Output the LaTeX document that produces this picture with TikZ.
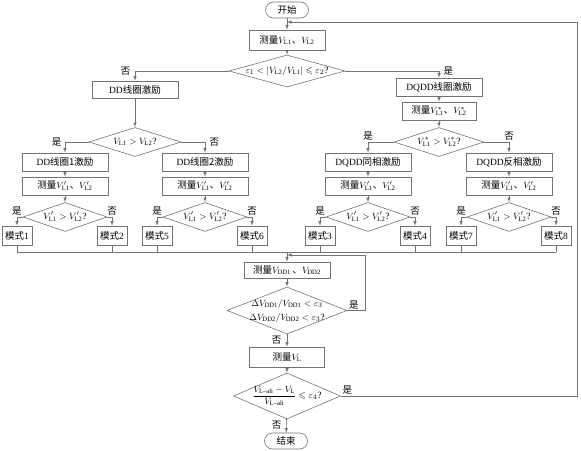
\documentclass[tikz,border=0pt]{standalone}
\usepackage{amsmath,amssymb}
\usepackage{fontspec}
\setmainfont{Liberation Serif}
\newfontfamily\cjk{Noto Sans CJK SC}
\newcommand{\zh}[1]{{\cjk #1}}
\newcommand{\dtxt}[1]{\makebox[0pt]{#1}} % zero width, the diamond keeps its own size
\usetikzlibrary{shapes.geometric}

\begin{document}
\begin{tikzpicture}[x=1pt, y=-1pt,
        every node/.style={font=\fontsize{9.5}{11}\selectfont, inner sep=0pt},
        proc/.style={draw=black!55, line width=0.6pt, rectangle, minimum width=86pt, minimum height=18pt, text centered},
        term/.style={draw=black!55, line width=0.6pt, rectangle, rounded corners=8pt, minimum width=43pt, minimum height=16pt},
        dec/.style={draw=black!55, line width=0.6pt, diamond, minimum width=84pt, minimum height=29pt},
        mode/.style={proc, minimum width=30pt, minimum height=19pt},
        lbl/.style={inner sep=1.5pt},
        arr/.style={draw=black!55, line width=0.6pt, -latex},
        line/.style={draw=black!55, line width=0.6pt}
    ]
    \useasboundingbox (0,0) rectangle (581,450);

    \node[term] (start) at (287,10) {\zh{开始}};
    \node[proc, minimum width=76pt, minimum height=20pt] (meas) at (287,40) {\zh{测量}$V_{\mathrm{L1}}$\zh{、}$V_{\mathrm{L2}}$};
    \node[dec, minimum width=116pt, minimum height=32pt] (ratio) at (287,71)
        {\dtxt{$\varepsilon_1<\left|V_{\mathrm{L2}}/V_{\mathrm{L1}}\right|\leqslant\varepsilon_2$?}};

    \node[proc, minimum height=17pt] (ddex) at (135,89.5) {DD\zh{线圈激励}};
    \node[dec, minimum width=92pt] (cmpA) at (135,142) {\dtxt{$V_{\mathrm{L1}}>V_{\mathrm{L2}}$?}};
    \node[proc] (dqex) at (439,87) {DQDD\zh{线圈激励}};
    \node[proc, minimum width=74pt] (dqmeas) at (439,111) {\zh{测量}$V^*_{\mathrm{L1}}$\zh{、}$V^*_{\mathrm{L2}}$};
    \node[dec, minimum width=90pt] (cmpB) at (439,142) {\dtxt{$V^*_{\mathrm{L1}}>V^*_{\mathrm{L2}}$?}};

    \coordinate (join) at (287,252);

    % four branches, each ends in two modes
    \foreach \cx/\nm/\txt/\ml/\mr in {65/a/{DD\zh{线圈1激励}}/1/2, 205/b/{DD\zh{线圈2激励}}/5/6,
            368/c/{DQDD\zh{同相激励}}/3/4, 509/d/{DQDD\zh{反相激励}}/7/8} {
        \node[proc] (ex\nm) at (\cx,162) {\txt};
        \node[proc] (ms\nm) at (\cx,186) {\zh{测量}$V'_{\mathrm{L1}}$\zh{、}$V'_{\mathrm{L2}}$};
        \node[dec] (cp\nm) at (\cx,217) {\dtxt{$V'_{\mathrm{L1}}>V'_{\mathrm{L2}}$?}};
        \node[mode] (mo\ml) at (\cx-48,235.5) {\zh{模式}\ml};
        \node[mode] (mo\mr) at (\cx+47,235.5) {\zh{模式}\mr};
        \draw[arr] (ex\nm) -- (ms\nm);
        \draw[arr] (ms\nm) -- (cp\nm);
        \draw[arr] (cp\nm.west) -| (mo\ml.north);
        \draw[arr] (cp\nm.east) -| (mo\mr.north);
        \node[lbl, above] (yes\nm) at (mo\ml.north |- cp\nm.west) {\zh{是}};
        \node[lbl, above] (no\nm) at (mo\mr.north |- cp\nm.east) {\zh{否}};
        \draw[line] (mo\ml.south) -- (mo\ml.south |- join);
        \draw[line] (mo\mr.south) -- (mo\mr.south |- join);
    }
    \draw[line] (mo1.south |- join) -- (mo8.south |- join);

    \node[proc, minimum height=16pt] (vdd) at (287,270) {\zh{测量}$V_{\mathrm{DD1}}$\,\zh{、}$V_{\mathrm{DD2}}$};
    \node[dec, minimum width=120pt, minimum height=47pt] (conv) at (287,310.5)
        {\dtxt{\fontsize{9.5}{14}\selectfont\begin{tabular}{@{}c@{}}$\Delta V_{\mathrm{DD1}}/V_{\mathrm{DD1}}<\varepsilon_3$\\ $\Delta V_{\mathrm{DD2}}/V_{\mathrm{DD2}}<\varepsilon_3$?\end{tabular}}};
    \node[proc, minimum width=75pt, minimum height=20pt] (vl) at (287,357) {\zh{测量}$V_{\mathrm{L}}$};
    \node[dec, minimum width=107pt, minimum height=46pt] (err) at (287,396)
        {\dtxt{$\dfrac{V_{\text{L--ali}}-V_{\mathrm{L}}}{V_{\text{L--ali}}}\leqslant\varepsilon_4$?}};
    \node[term] (stop) at (286,441) {\zh{结束}};

    \coordinate (fb) at (287,255);
    \coordinate (back) at (287,22);
    \coordinate (rt) at (577,22);

    \draw[arr] (start) -- (meas);
    \draw[arr] (meas) -- (ratio);
    \draw[arr] (ratio.west) -| (ddex.north);
    \draw[arr] (ratio.east) -| (dqex.north);
    \node[lbl, left=3pt] (no0) at (ddex.north |- ratio.west) {\zh{否}};
    \node[lbl, right=3pt] (yes0) at (dqex.north |- ratio.east) {\zh{是}};
    \draw[arr] (ddex) -- (cmpA);
    \draw[arr] (dqex) -- (dqmeas);
    \draw[arr] (dqmeas) -- (cmpB);
    \draw[arr] (cmpA.west) -| (exa.north);
    \draw[arr] (cmpA.east) -| (exb.north);
    \draw[arr] (cmpB.west) -| (exc.north);
    \draw[arr] (cmpB.east) -| (exd.north);
    \node[lbl, left=2pt] (yesA) at (exa.north |- cmpA.west) {\zh{是}};
    \node[lbl, right=3pt] (noA) at (exb.north |- cmpA.east) {\zh{否}};
    \node[lbl, above] (yesB) at (exc.north |- cmpB.west) {\zh{是}};
    \node[lbl, above] (noB) at (exd.north |- cmpB.east) {\zh{否}};

    \draw[arr] (join) -- (vdd);
    \draw[arr] (vdd) -- (conv);
    \draw[arr] (conv.east) -- ++(18,0) |- (fb);
    \node[lbl, above right] (yesC) at (conv.east) {\zh{是}};
    \draw[arr] (conv) -- (vl);
    \node[lbl, left=4pt] (noC) at (287,340) {\zh{否}};
    \draw[arr] (vl) -- (err);
    \draw[arr] (err) -- (stop);
    \node[lbl, left=4pt] (noD) at (287,425) {\zh{否}};
    \draw[arr] (err.east) -| (rt) -- (back);
    \node[lbl, above right] (yesD) at (err.east) {\zh{是}};
\end{tikzpicture}
\end{document}
